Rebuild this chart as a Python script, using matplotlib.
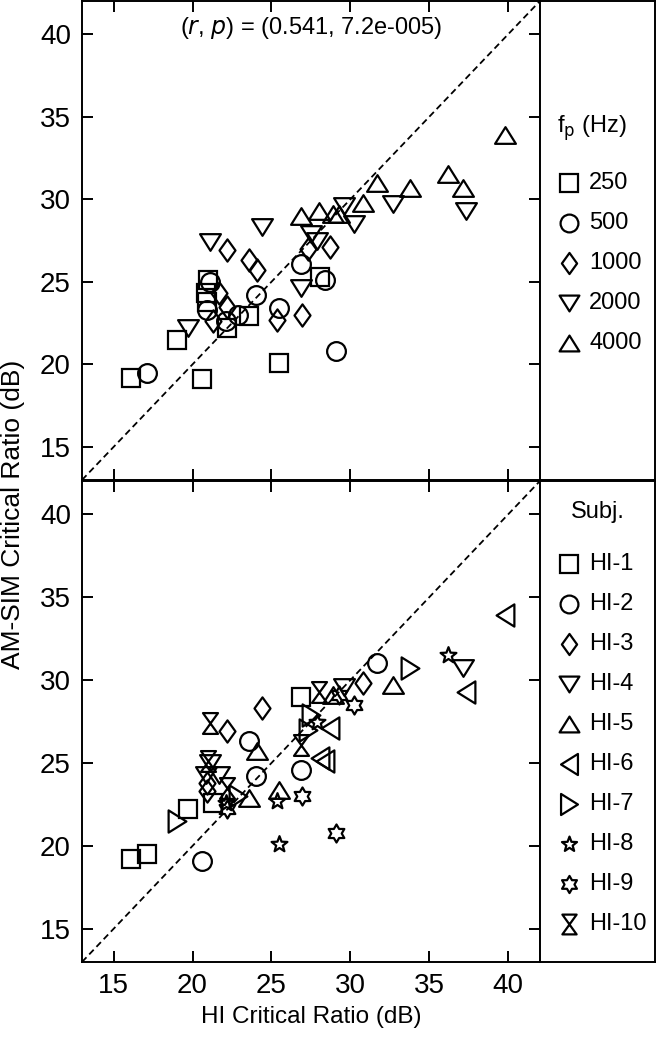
import numpy as np
import matplotlib
matplotlib.use("Agg")
import matplotlib.pyplot as plt
from matplotlib.path import Path

plt.rcParams['font.family'] = ['Liberation Sans', 'DejaVu Sans']

# one row per (subject, probe frequency): HI critical ratio vs AM-SIM critical ratio (dB)
subj = [1, 1, 1, 1, 1,
        2, 2, 2, 2, 2,
        3, 3, 3, 3, 3,
        4, 4, 4, 4, 4,
        5, 5, 5, 5, 5,
        6, 6, 6, 6, 6,
        7, 7, 7, 7, 7,
        8, 8, 8, 8, 8,
        9, 9, 9, 9, 9,
        10, 10, 10, 10, 10]
freq = [250, 500, 1000, 2000, 4000] * 10
hi_cr = [16.1, 17.1, 21.3, 19.7, 26.9,
         20.6, 24.0, 23.55, 26.9, 31.7,
         20.9, 20.9, 22.2, 24.4, 30.8,
         20.85, 21.1, 21.65, 29.6, 37.1,
         23.55, 25.5, 24.1, 32.7, 28.9,
         28.1, 28.4, 28.7, 37.3, 39.8,
         19.0, 22.9, 27.3, 27.5, 33.8,
         25.5, 22.1, 25.35, 27.9, 36.2,
         22.2, 29.1, 26.95, 30.2, 29.3,
         21.0, 26.9, 22.2, 21.1, 28.0]
sim_cr = [19.2, 19.5, 22.6, 22.2, 29.0,
          19.1, 24.2, 26.3, 24.6, 31.0,
          23.8, 23.3, 26.9, 28.3, 29.8,
          24.3, 25.0, 24.3, 29.6, 30.7,
          22.9, 23.4, 25.7, 29.7, 29.1,
          25.3, 25.1, 27.1, 29.3, 33.9,
          21.5, 23.0, 27.0, 27.9, 30.7,
          20.1, 22.6, 22.7, 27.5, 31.5,
          22.2, 20.8, 23.0, 28.5, 29.1,
          25.1, 26.1, 23.5, 27.4, 29.3]

freq_list = [250, 500, 1000, 2000, 4000]
freq_names = ['250', '500', '1000', '2000', '4000']
subj_names = ['HI-1', 'HI-2', 'HI-3', 'HI-4', 'HI-5',
              'HI-6', 'HI-7', 'HI-8', 'HI-9', 'HI-10']
r_val = 0.541
p_txt = '7.2e-005'


def tri(ang):
    v = np.array([[0, 0.8], [-1, -0.8], [1, -0.8], [0, 0.8]])
    t = np.deg2rad(ang)
    rot = np.array([[np.cos(t), -np.sin(t)], [np.sin(t), np.cos(t)]])
    return Path(v @ rot.T, closed=True)


def star(n, inner):
    a = np.pi / 2 + np.arange(2 * n) * np.pi / n
    r = np.where(np.arange(2 * n) % 2 == 0, 1.0, inner)
    v = np.column_stack([r * np.cos(a), r * np.sin(a)])
    return Path(np.vstack([v, v[:1]]), closed=True)


diamond = Path([[0, 1], [0.72, 0], [0, -1], [-0.72, 0], [0, 1]], closed=True)
hourglass = Path([[-0.72, 1], [0.72, 1], [-0.72, -1], [0.72, -1], [-0.72, 1]], closed=True)


def side_tri(s):
    return Path([[s * 0.8, 0], [-s * 0.8, 1], [-s * 0.8, -1], [s * 0.8, 0]], closed=True)


# marker, size (pt)
fmark = {250: ('s', 13.5), 500: ('o', 13.5), 1000: (diamond, 16),
         2000: (tri(180), 15), 4000: (tri(0), 15)}
smark = {1: ('s', 13.5), 2: ('o', 13.5), 3: (diamond, 16), 4: (tri(180), 15),
         5: (tri(0), 15), 6: (side_tri(-1), 16), 7: (side_tri(1), 16),
         8: (star(5, 0.42), 12), 9: (star(6, 0.58), 13), 10: (hourglass, 15)}

fig = plt.figure(figsize=(6.57, 10.4), dpi=100)
lw = 1.6
ax_top = fig.add_axes([0.1248, 0.5385, 0.697, 0.4605])
ax_bot = fig.add_axes([0.1248, 0.075, 0.697, 0.4625])
lg_top = fig.add_axes([0.8218, 0.5385, 0.175, 0.4605])
lg_bot = fig.add_axes([0.8218, 0.075, 0.175, 0.4625])

hi_cr = np.array(hi_cr)
sim_cr = np.array(sim_cr)
freq = np.array(freq)
subj = np.array(subj)

for ax in (ax_top, ax_bot):
    ax.plot([13, 42], [13, 42], color='black', ls=(0, (3.6, 2.2)), lw=1.3, zorder=1)
    ax.set_xlim(13, 42)
    ax.set_ylim(13, 42)
    ax.set_xticks([15, 20, 25, 30, 35, 40])
    ax.set_yticks([15, 20, 25, 30, 35, 40])
    ax.tick_params(direction='in', length=8, width=1.4, top=True, right=True,
                   labelsize=20, pad=8)
    for sp in ax.spines.values():
        sp.set_linewidth(1.4)

for f in freq_list:
    m, ms = fmark[f]
    sel = freq == f
    ax_top.plot(hi_cr[sel], sim_cr[sel], ls='none', marker=m, ms=ms, mfc='none',
                mec='black', mew=lw, zorder=3)
for s in range(1, 11):
    m, ms = smark[s]
    sel = subj == s
    ax_bot.plot(hi_cr[sel], sim_cr[sel], ls='none', marker=m, ms=ms, mfc='none',
                mec='black', mew=lw, zorder=3)

ax_top.tick_params(labelbottom=False)
ax_top.text(0.5, 0.944, r'($\it{r}$, $\it{p}$) = (%.3f, %s)' % (r_val, p_txt),
            transform=ax_top.transAxes, ha='center', va='center', fontsize=17)
ax_bot.set_xlabel('HI Critical Ratio (dB)', fontsize=17.5, labelpad=5)
fig.text(0.02, 0.505, 'AM-SIM Critical Ratio (dB)', rotation=90, ha='center',
         va='center', fontsize=19)

# legend panels
for lg in (lg_top, lg_bot):
    lg.set_xlim(0, 1)
    lg.set_ylim(0, 1)
    lg.set_xticks([])
    lg.set_yticks([])
    for sp in lg.spines.values():
        sp.set_linewidth(1.4)

top_h = 479.0
lg_top.text(0.45, 1 - 127 / top_h, r'f$_{\rm p}$ (Hz)', ha='center', va='center', fontsize=17)
for i, f in enumerate(freq_list):
    yy = 1 - (182 + 40 * i) / top_h
    m, ms = fmark[f]
    lg_top.plot([0.25], [yy], ls='none', marker=m, ms=ms * 0.95, mfc='none',
                mec='black', mew=lw)
    lg_top.text(0.43, yy, freq_names[i], ha='left', va='center', fontsize=17)

bot_h = 481.0
lg_bot.text(0.5, 1 - 31 / bot_h, 'Subj.', ha='center', va='center', fontsize=17)
for i in range(10):
    yy = 1 - (83 + 40 * i) / bot_h
    m, ms = smark[i + 1]
    lg_bot.plot([0.25], [yy], ls='none', marker=m, ms=ms * 0.95, mfc='none',
                mec='black', mew=lw)
    lg_bot.text(0.43, yy, subj_names[i], ha='left', va='center', fontsize=17)

fig.savefig('out.png', dpi=100)
